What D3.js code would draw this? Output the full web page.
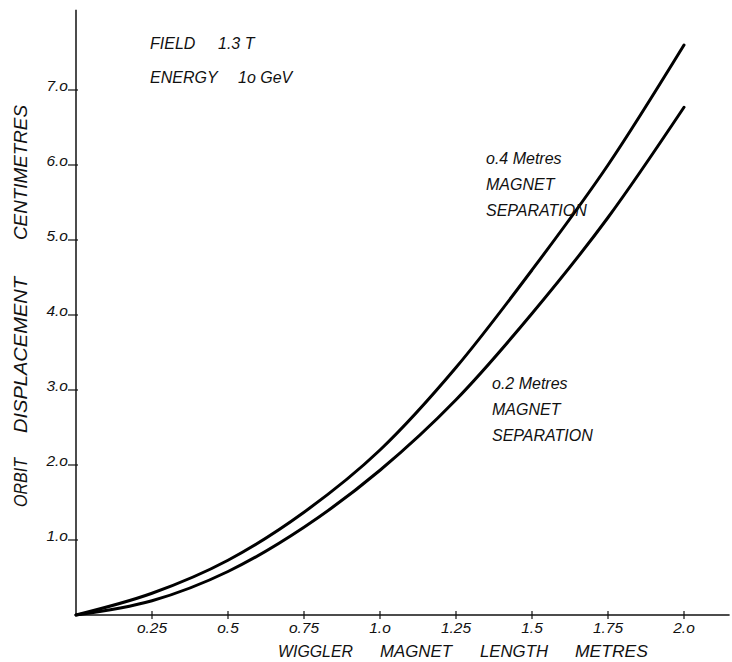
<!DOCTYPE html>
<html lang="en">
<head>
    <meta charset="UTF-8">
    <title>Orbit displacement vs wiggler magnet length</title>
    <script src="https://d3js.org/d3.v7.min.js"></script>
    <style>
        body { margin: 0; background: #fff; }
        svg { display: block; }
        text {
            font-family: "Liberation Sans", Arial, sans-serif;
            font-style: italic;
            fill: #111;
        }
    </style>
</head>
<body>
    <div id="chart"></div>

    <script>
        // data
        const lengths = [0, 0.25, 0.5, 0.75, 1.0, 1.25, 1.5, 1.75, 2.0];
        const sep04 = [0, 0.29, 0.73, 1.37, 2.2, 3.3, 4.6, 6.0, 7.6];
        const sep02 = [0, 0.19, 0.58, 1.17, 1.93, 2.87, 4.02, 5.3, 6.77];

        const xTicks = [0.25, 0.5, 0.75, 1.0, 1.25, 1.5, 1.75, 2.0];
        const xTickLabels = ["o.25", "o.5", "o.75", "1.o", "1.25", "1.5", "1.75", "2.o"];
        const yTicks = [1, 2, 3, 4, 5, 6, 7];
        const yTickLabels = ["1.o", "2.o", "3.o", "4.o", "5.o", "6.o", "7.o"];

        const xTitleWords = ["WIGGLER", "MAGNET", "LENGTH", "METRES"];
        const yTitleWords = ["ORBIT", "DISPLACEMENT", "CENTIMETRES"];
        const infoLines = [["FIELD", "1.3 T"], ["ENERGY", "1o GeV"]];
        const label04 = ["o.4 Metres", "MAGNET", "SEPARATION"];
        const label02 = ["o.2 Metres", "MAGNET", "SEPARATION"];

        const width = 732;
        const height = 662;

        const svg = d3.select("#chart")
                      .append("svg")
                      .attr("width", width)
                      .attr("height", height);

        const x = d3.scaleLinear().domain([0, 2]).range([76, 684]);
        const y = d3.scaleLinear().domain([0, 7]).range([615, 90]);

        // axes lines (hand drawn style, running past the last tick)
        svg.append("line")
           .attr("x1", x(0)).attr("x2", x(2.15))
           .attr("y1", y(0)).attr("y2", y(0))
           .attr("stroke", "#111").attr("stroke-width", 1.5);
        svg.append("line")
           .attr("x1", x(0)).attr("x2", x(0))
           .attr("y1", y(0)).attr("y2", y(8.07))
           .attr("stroke", "#111").attr("stroke-width", 1.5);

        // x ticks
        const xt = svg.append("g").selectAll("g")
            .data(xTicks)
            .enter().append("g")
            .attr("transform", d => `translate(${x(d)},${y(0)})`);
        xt.append("line")
          .attr("y1", -4).attr("y2", 4)
          .attr("stroke", "#111").attr("stroke-width", 1.2);
        xt.append("text")
          .attr("y", 18)
          .attr("text-anchor", "middle")
          .style("font-size", "15.5px")
          .text((d, i) => xTickLabels[i]);

        // y ticks
        const yt = svg.append("g").selectAll("g")
            .data(yTicks)
            .enter().append("g")
            .attr("transform", d => `translate(${x(0)},${y(d)})`);
        yt.append("line")
          .attr("x1", -8).attr("x2", 2)
          .attr("stroke", "#111").attr("stroke-width", 1.2);
        yt.append("text")
          .attr("x", -8)
          .attr("y", 1)
          .attr("text-anchor", "end")
          .style("font-size", "15.5px")
          .text((d, i) => yTickLabels[i]);

        // axis titles, word by word with wide gaps like the lettering
        const xWordPos = [[278, 75], [380, 72], [480, 68], [575, 73]];
        svg.append("g").selectAll("text")
            .data(xTitleWords)
            .enter().append("text")
            .attr("x", (d, i) => xWordPos[i][0])
            .attr("y", 657)
            .attr("textLength", (d, i) => xWordPos[i][1])
            .attr("lengthAdjust", "spacingAndGlyphs")
            .style("font-size", "16.5px")
            .text(d => d);

        const yWordPos = [[507, 49], [433, 156], [240, 135]];
        svg.append("g")
            .attr("transform", "translate(27,0) rotate(-90)")
            .selectAll("text")
            .data(yTitleWords)
            .enter().append("text")
            .attr("x", (d, i) => -yWordPos[i][0])
            .attr("y", 0)
            .attr("textLength", (d, i) => yWordPos[i][1])
            .attr("lengthAdjust", "spacingAndGlyphs")
            .style("font-size", "18px")
            .text(d => d);

        // curves
        const line = d3.line()
            .x((d, i) => x(lengths[i]))
            .y(d => y(d))
            .curve(d3.curveMonotoneX);

        svg.append("g").selectAll("path")
            .data([sep04, sep02])
            .enter().append("path")
            .attr("d", line)
            .attr("fill", "none")
            .attr("stroke", "#000")
            .attr("stroke-width", 3)
            .attr("stroke-linecap", "round");

        // annotations
        const infoPos = [[150, 218, 49], [150, 238, 83]];
        infoLines.forEach((parts, i) => {
            const t = svg.append("text")
                .attr("y", infoPos[i][2])
                .style("font-size", "16px");
            t.append("tspan").attr("x", infoPos[i][0]).text(parts[0]);
            t.append("tspan").attr("x", infoPos[i][1]).text(parts[1]);
        });

        function block(lines, x0, y0) {
            svg.append("g").selectAll("text")
                .data(lines)
                .enter().append("text")
                .attr("x", x0)
                .attr("y", (d, i) => y0 + i * 26)
                .style("font-size", "16px")
                .text(d => d);
        }
        block(label04, 486, 164);
        block(label02, 492, 389);
    </script>
</body>
</html>
